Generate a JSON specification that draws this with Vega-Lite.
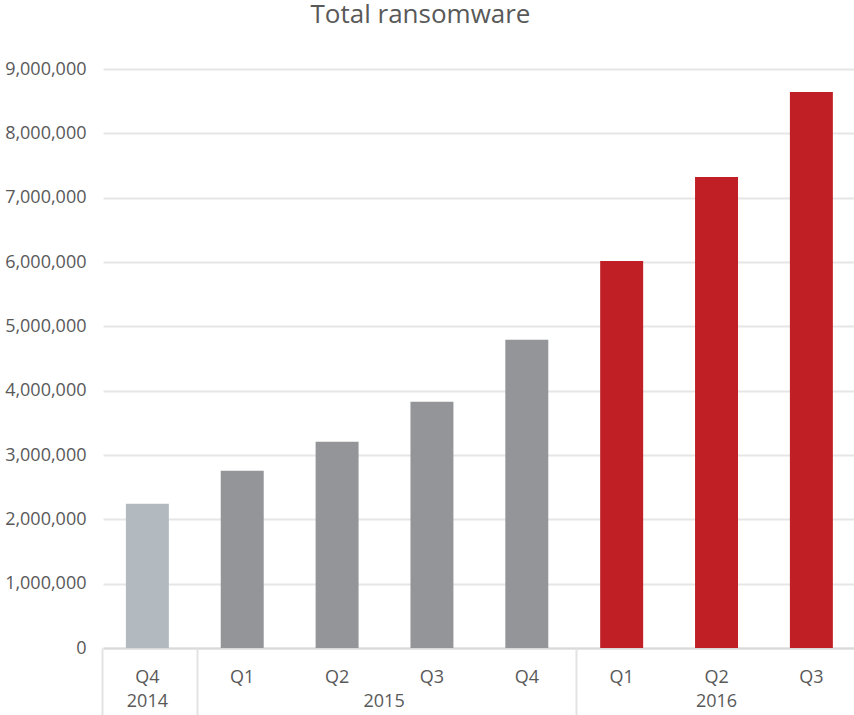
{
  "$schema": "https://vega.github.io/schema/vega-lite/v6.json",
  "autosize": {"type": "none"},
  "padding": {"left": 103, "top": 69, "right": 0, "bottom": 67},
  "width": 751,
  "height": 579,
  "background": "white",
  "title": {
    "text": "Total ransomware",
    "anchor": "middle",
    "frame": "group",
    "dx": -58,
    "offset": 11,
    "baseline": "alphabetic",
    "font": "Open Sans",
    "fontSize": 26,
    "fontWeight": "normal",
    "color": "#595959"
  },
  "config": {
    "view": {"stroke": null},
    "font": "Open Sans"
  },
  "data": {
    "values": [
      {"period": "2014 Q4", "year": "2014", "value": 2244000},
      {"period": "2015 Q1", "year": "2015", "value": 2757000},
      {"period": "2015 Q2", "year": "2015", "value": 3207000},
      {"period": "2015 Q3", "year": "2015", "value": 3829000},
      {"period": "2015 Q4", "year": "2015", "value": 4793000},
      {"period": "2016 Q1", "year": "2016", "value": 6016000},
      {"period": "2016 Q2", "year": "2016", "value": 7320000},
      {"period": "2016 Q3", "year": "2016", "value": 8642000}
    ]
  },
  "resolve": {"scale": {"x": "shared"}, "axis": {"x": "independent"}},
  "encoding": {
    "y": {
      "field": "value",
      "type": "quantitative",
      "scale": {"domain": [0, 9000000], "nice": false},
      "axis": {
        "title": null,
        "values": [0, 1000000, 2000000, 3000000, 4000000, 5000000, 6000000, 7000000, 8000000, 9000000],
        "format": ",d",
        "domain": false,
        "ticks": false,
        "labelPadding": 17,
        "labelFont": "Open Sans",
        "labelFontSize": 18,
        "labelColor": "#595959",
        "gridColor": "#e6e6e6",
        "gridWidth": 2
      }
    }
  },
  "layer": [
    {
      "mark": {"type": "bar"},
      "encoding": {
        "x": {
          "field": "period",
          "type": "nominal",
          "sort": null,
          "scale": {"paddingInner": 0.547, "paddingOuter": 0.232, "align": 0.52},
          "axis": {
            "title": null,
            "orient": "bottom",
            "labelExpr": "substring(datum.value, 5)",
            "labelAngle": 0,
            "labelBaseline": "middle",
            "labelPadding": 29,
            "labelFont": "Open Sans",
            "labelFontSize": 18,
            "labelColor": "#595959",
            "ticks": false,
            "domain": true,
            "domainColor": "#d9d9d9",
            "domainWidth": 2,
            "grid": false
          }
        },
        "color": {
          "field": "year",
          "type": "nominal",
          "scale": {"domain": ["2014", "2015", "2016"], "range": ["#b2babf", "#939598", "#c01f26"]},
          "legend": null
        }
      }
    },
    {
      "mark": {"type": "bar", "opacity": 0},
      "encoding": {
        "x": {
          "field": "period",
          "type": "nominal",
          "sort": null,
          "axis": {
            "title": null,
            "orient": "bottom",
            "labelExpr": "datum.value == '2014 Q4' ? '2014' : datum.value == '2015 Q2' ? '2015' : datum.value == '2016 Q2' ? '2016' : ''",
            "labelAngle": 0,
            "labelBaseline": "middle",
            "labelPadding": -14,
            "labelOffset": {"condition": {"test": "datum.value == '2015 Q2'", "value": 47}, "value": 0},
            "labelFont": "Open Sans",
            "labelFontSize": 18,
            "labelColor": "#595959",
            "ticks": true,
            "bandPosition": -0.55,
            "tickSize": 67,
            "tickWidth": 2,
            "tickColor": "#e3e3e3",
            "tickOpacity": {"condition": {"test": "datum.value == '2014 Q4' || datum.value == '2015 Q1' || datum.value == '2016 Q1'", "value": 1}, "value": 0},
            "domain": false,
            "grid": false
          }
        }
      }
    }
  ]
}
